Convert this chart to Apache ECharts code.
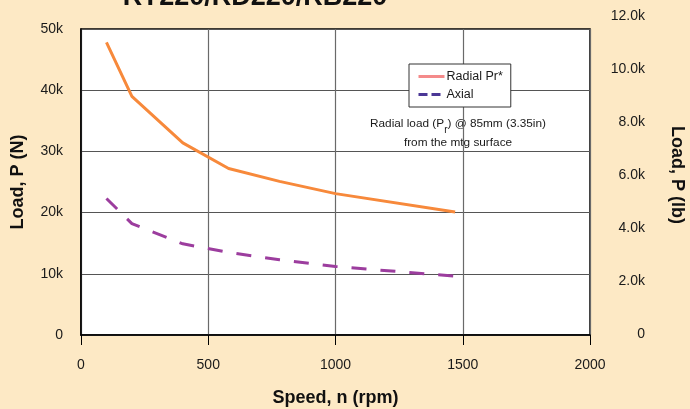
<!DOCTYPE html>
<html>
<head>
<meta charset="utf-8">
<script src="https://cdn.jsdelivr.net/npm/echarts@6/dist/echarts.min.js"></script>
<style>
  html, body { margin: 0; padding: 0; background: #fde9c5; }
  #main { width: 690px; height: 409px; }
</style>
</head>
<body>
<div id="main"></div>
<script>
// values (N vs rpm)
var speeds = [100, 200, 400, 580, 780, 1000, 1470];
var radialN = [47800, 39000, 31400, 27200, 25100, 23100, 20100];
var axialN = [22300, 18200, 14900, 13500, 12300, 11200, 9600];

function pairs(xs, ys) {
  return xs.map(function (x, i) { return [x, ys[i]]; });
}

var chart = echarts.init(document.getElementById('main'));
var labelFont = { color: '#1a1a1a', fontSize: 14, fontFamily: 'Liberation Sans' };

var option = {
  backgroundColor: '#fde9c5',
  animation: false,
  grid: [
    { left: 81, right: 100, top: 29, bottom: 74, outerBoundsMode: 'none', show: true, backgroundColor: '#fff', borderColor: '#000', borderWidth: 1.5 },
    { left: 81, right: 100, top: 16, bottom: 75, outerBoundsMode: 'none' }
  ],
  xAxis: [
    {
      type: 'value', gridIndex: 0, min: 0, max: 2000, interval: 500,
      axisLine: { lineStyle: { color: '#000', width: 1.5 } },
      axisTick: { show: true, inside: false, length: 10, lineStyle: { color: '#000' } },
      axisLabel: Object.assign({ margin: 23, formatter: function (v) { return String(v); } }, labelFont),
      splitLine: { show: true, lineStyle: { color: '#6a6a6a', width: 1.2 } },
      name: 'Speed, n (rpm)', nameLocation: 'middle', nameGap: 54,
      nameTextStyle: { fontSize: 18, fontWeight: 'bold', color: '#111', fontFamily: 'Liberation Sans' }
    },
    { type: 'value', gridIndex: 1, min: 0, max: 2000, show: false }
  ],
  yAxis: [
    {
      type: 'value', gridIndex: 0, min: 0, max: 50000, interval: 10000,
      axisLine: { show: true, lineStyle: { color: '#000', width: 1.5 } },
      axisTick: { show: false },
      axisLabel: Object.assign({
        margin: 18,
        formatter: function (v) { return v === 0 ? '0' : (v / 1000) + 'k'; }
      }, labelFont),
      splitLine: { show: true, lineStyle: { color: '#555', width: 1.2 } },
      name: 'Load, P (N)', nameLocation: 'middle', nameGap: 54, nameRotate: 90,
      nameTextStyle: { fontSize: 18, fontWeight: 'bold', color: '#111', fontFamily: 'Liberation Sans' }
    },
    {
      type: 'value', gridIndex: 1, position: 'right', min: 0, max: 12000, interval: 2000,
      axisLine: { show: false }, axisTick: { show: false }, splitLine: { show: false },
      axisLabel: Object.assign({
        margin: 55, align: 'right',
        formatter: function (v) { return v === 0 ? '0' : (v / 1000).toFixed(1) + 'k'; }
      }, labelFont),
      name: 'Load, P (lb)', nameLocation: 'middle', nameGap: 78, nameRotate: -90,
      nameTextStyle: { fontSize: 18, fontWeight: 'bold', color: '#111', fontFamily: 'Liberation Sans' }
    }
  ],
  legend: {
    orient: 'vertical', left: 409, top: 64,
    backgroundColor: '#fff', borderColor: '#333', borderWidth: 1,
    padding: [6, 8, 6, 8], itemGap: 5, itemWidth: 26, itemHeight: 10,
    itemStyle: { opacity: 0 },
    textStyle: { fontSize: 12.5, color: '#1a1a1a', fontFamily: 'Liberation Sans', padding: [0, 0, 0, -3] },
    data: [
      { name: 'Radial Pr*', itemStyle: { opacity: 0 }, lineStyle: { color: '#f48a8a', type: 'solid', width: 3 } },
      { name: 'Axial', itemStyle: { opacity: 0 }, lineStyle: { color: '#4b3796', type: [9, 4], width: 3 } }
    ]
  },
  graphic: [
    {
      type: 'text', x: 255, y: -16,
      style: { text: 'RY220/RD220/RB220', font: 'bold 27px "Liberation Sans"', fill: '#111', textAlign: 'center' }
    },
    {
      type: 'text', x: 458, y: 131,
      style: {
        text: '{a|Radial load (P}{s|r}{a|) @ 85mm (3.35in)}\n{a|from the mtg surface}',
        align: 'center', verticalAlign: 'middle',
        rich: {
          a: { fontSize: 11.8, fontFamily: 'Liberation Sans', fill: '#1a1a1a', lineHeight: 15 },
          s: { fontSize: 10, fontFamily: 'Liberation Sans', fill: '#1a1a1a', padding: [14, 0, 0, 0] }
        }
      }
    }
  ],
  series: [
    {
      name: 'Radial Pr*', type: 'line', xAxisIndex: 0, yAxisIndex: 0,
      data: pairs(speeds, radialN), symbol: 'none',
      lineStyle: { color: '#f7893b', width: 3 }, itemStyle: { color: '#f7893b' }
    },
    {
      name: 'Axial', type: 'line', xAxisIndex: 0, yAxisIndex: 0,
      data: pairs(speeds, axialN), symbol: 'none',
      lineStyle: { color: '#9c3d9e', width: 3, type: [15, 14] }, itemStyle: { color: '#9c3d9e' }
    }
  ]
};
chart.setOption(option);
</script>
</body>
</html>
